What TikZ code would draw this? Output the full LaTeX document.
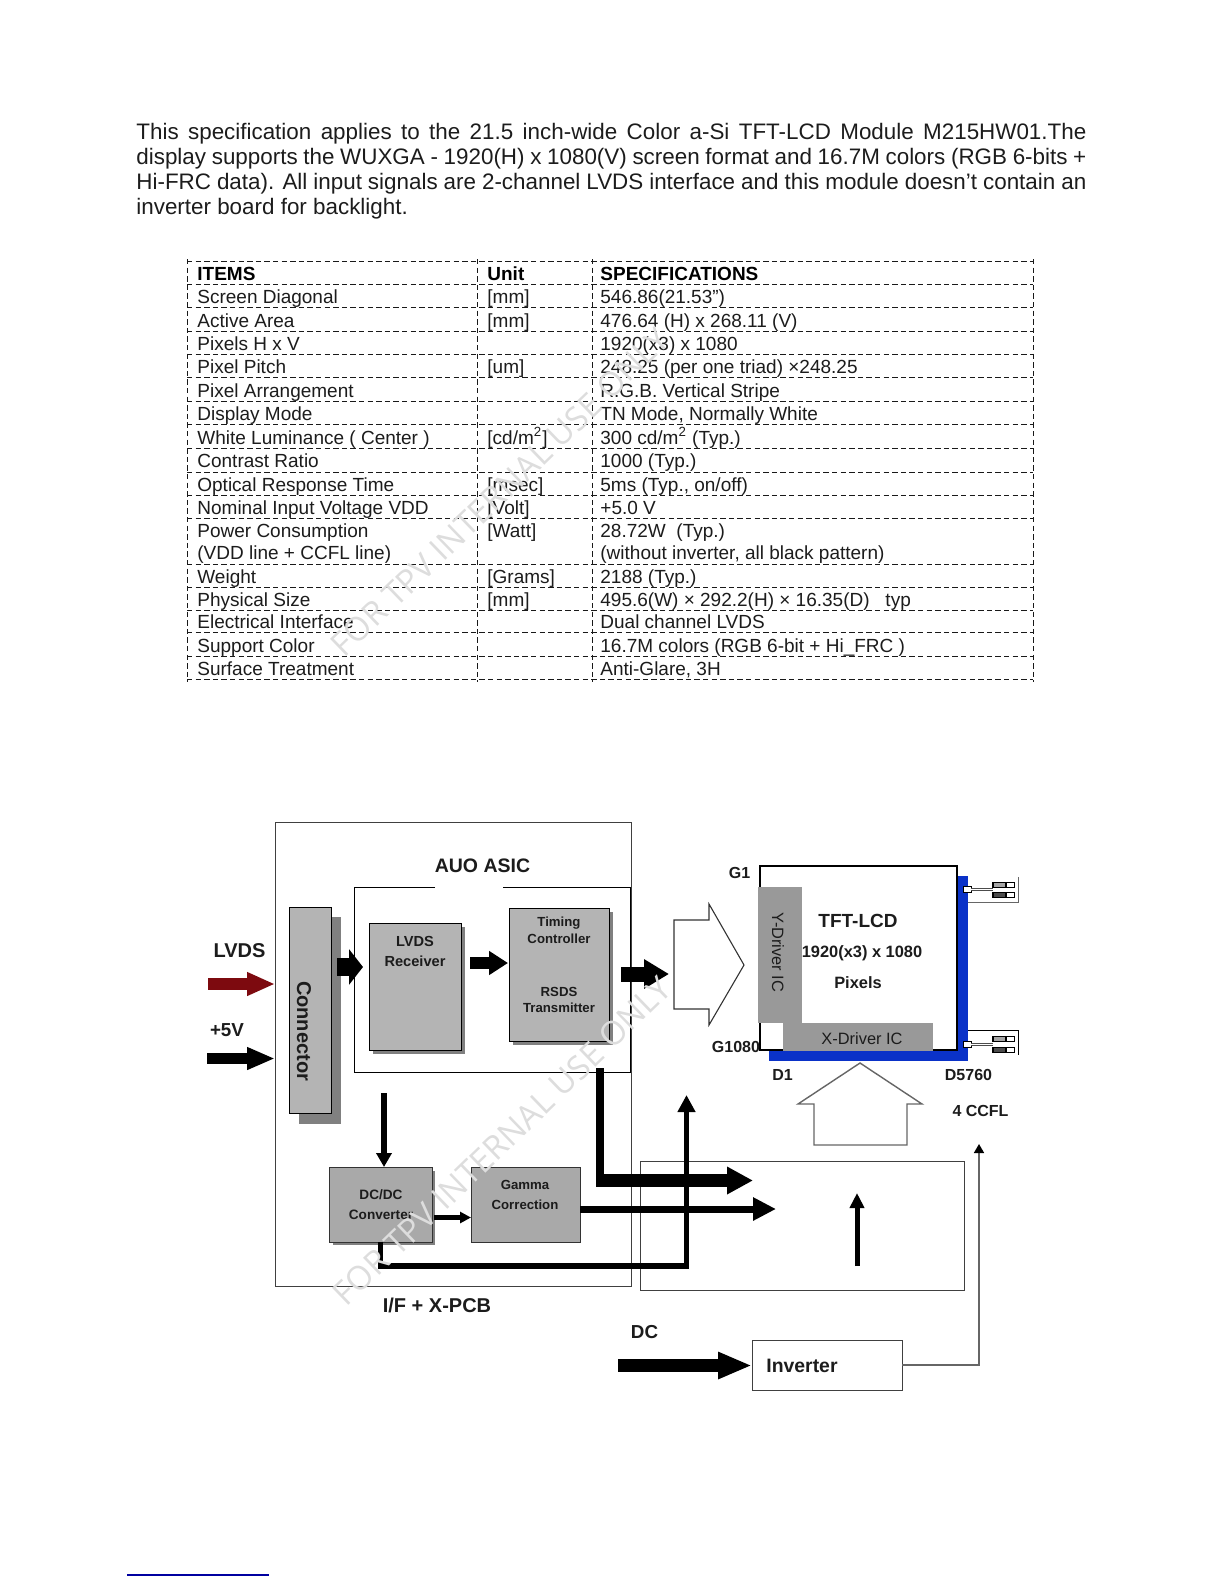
\documentclass[tikz,border=0pt]{standalone}
\usepackage{fontspec}
\setmainfont{Liberation Sans}
\newfontfamily\wmfont{Open Sans}
\usetikzlibrary{arrows.meta,calc}
\definecolor{boxgray}{HTML}{B4B4B4}
\definecolor{boxgrayb}{HTML}{A9A9A9}
\definecolor{shadowgray}{HTML}{808080}
\definecolor{drvgray}{HTML}{999999}
\definecolor{lcdblue}{HTML}{0A32C8}
\definecolor{inkc}{HTML}{1C1C1C}
\definecolor{wmgray}{HTML}{DDDDDD}
\definecolor{pagebluec}{HTML}{0000A0}
\newcommand\fpt[1]{\fontsize{#1pt}{#1pt}\selectfont}
\newcommand\bxn[6][]{%
 \pgfmathsetmacro\bw{(#5-#3)*0.5}\pgfmathsetmacro\bh{(#6-#4)*0.5}%
 \pgfmathsetmacro\bcx{(#3+#5)/2}\pgfmathsetmacro\bcy{(#4+#6)/2}%
 \node[inner sep=0pt,outer sep=0pt,minimum width=\bw pt,minimum height=\bh pt,#1] (#2) at (\bcx,\bcy) {};}
\newcommand\trow[5]{%
 \node[tcell] (#1a) at (197,#2) {#3};
 \node[tcell] (#1b) at (487,#2) {#4};
 \node[tcell] (#1c) at (600,#2) {#5};}
\newcommand\trown[4]{%
 \node[tcell] (#1a) at (197,#2) {#3};
 \node[tcell] (#1c) at (600,#2) {#4};}
\tikzset{
 tcell/.style={anchor=base west,inner sep=0pt,font=\fpt{9.5},text=inkc},
 thead/.style={anchor=base west,inner sep=0pt,font=\fpt{9.5}\bfseries,text=black},
 lab/.style={inner sep=0pt,text=inkc,font=\bfseries\fpt{#1}},
 lab/.default=8,
 reglab/.style={inner sep=0pt,text=inkc,font=\fpt{#1}},
 frame/.style={draw=black!75,line width=0.5pt},
 gbox/.style={draw=black,line width=0.5pt,fill=boxgray},
 gboxb/.style={draw=black!80,line width=0.5pt,fill=boxgrayb},
 shade/.style={fill=shadowgray},
 dashrule/.style={draw=black!90,line width=0.38pt,dash pattern=on 2.7pt off 1.6pt},
 wm/.style={inner sep=0pt,text=wmgray,font=\wmfont\fpt{16.5},rotate=44},
}
\begin{document}
\begin{tikzpicture}[x=0.5pt,y=-0.5pt]
\useasboundingbox (0,0) rectangle (1224,1584);
\fill[white] (0,0) rectangle (1224,1584);

% --- intro paragraph
\node[anchor=north west,inner sep=0pt,text width=475pt,align=justify,font=\fontsize{11.2}{12.5}\selectfont,text=inkc] (intro) at (136,122.5)
 {This specification applies to the 21.5 inch-wide Color a-Si TFT-LCD Module M215HW01.The\linebreak
 display supports the WUXGA - 1920(H) x 1080(V) screen format and 16.7M colors (RGB 6-bits +\linebreak
 Hi-FRC data). All input signals are 2-channel LVDS interface and this module doesn’t contain an\linebreak
 inverter board for backlight.};

% --- table rules
\foreach \yy in {261,284,307,331,354,377,401,424,448,472,495,518,564,587,610,632,656,679}
  \draw[dashrule] (187,\yy) -- (1033,\yy);
\foreach \xx in {187,477,592,1033}
  \draw[dashrule] (\xx,259) -- (\xx,682);

% --- table text
\node[thead] (h1) at (197,280) {ITEMS};
\node[thead] (h2) at (487,280) {Unit};
\node[thead] (h3) at (600,280) {SPECIFICATIONS};
\trow{ra}{303}{Screen Diagonal}{[mm]}{546.86(21.53”)}
\trow{rb}{327}{Active Area}{[mm]}{476.64 (H) x 268.11 (V)}
\trown{rc}{350}{Pixels H x V}{1920(x3) x 1080}
\trow{rd}{373}{Pixel Pitch}{[um]}{248.25 (per one triad) ×248.25}
\trown{re}{397}{Pixel Arrangement}{R.G.B. Vertical Stripe}
\trown{rf}{420}{Display Mode}{TN Mode, Normally White}
\trow{rg}{444}{White Luminance ( Center )}{[cd/m\textsuperscript{2}]}{300 cd/m\textsuperscript{2} (Typ.)}
\trown{rh}{467}{Contrast Ratio}{1000 (Typ.)}
\trow{ri}{491}{Optical Response Time}{[msec]}{5ms (Typ., on/off)}
\trow{rj}{514}{Nominal Input Voltage VDD}{[Volt]}{+5.0 V}
\trow{rk}{537}{Power Consumption}{[Watt]}{28.72W\ \ (Typ.)}
\trown{rl}{559}{(VDD line + CCFL line)}{(without inverter, all black pattern)}
\trow{rm}{583}{Weight}{[Grams]}{2188 (Typ.)}
\trow{rn}{606}{Physical Size}{[mm]}{495.6(W) × 292.2(H) × 16.35(D)\ \ \ typ}
\trown{ro}{628}{Electrical Interface}{Dual channel LVDS}
\trown{rp}{652}{Support Color}{16.7M colors (RGB 6-bit + Hi\_FRC )}
\trown{rq}{675}{Surface Treatment}{Anti-Glare, 3H}

% --- frames
\bxn[frame]{outer}{275}{822}{631}{1286}
\bxn[frame]{lower}{640}{1161}{964}{1290}
\bxn{asic}{354}{887}{630}{1072}
\draw[draw=black,line width=0.5pt] (435,887) -- (354,887) -- (354,1072) -- (630,1072) -- (630,887) -- (503,887);
\node[lab=9.75] (asiclab) at (482.5,866) {AUO ASIC};

% --- shadows and grey blocks
\bxn[shade]{connsh}{299}{917}{341}{1124}
\bxn[gbox]{conn}{289}{907}{331}{1113}
\node[lab=10,rotate=-90] (connlab) at (304,1031) {Connector};
\bxn[shade]{recvsh}{373}{927}{465}{1054}
\bxn[gbox]{recv}{369}{923}{461}{1050}
\node[lab=7.3] (recvl1) at (415,941) {LVDS};
\node[lab=7.3] (recvl2) at (415,961) {Receiver};
\bxn[shade]{timsh}{513}{912}{613}{1045}
\bxn[gbox]{tim}{509}{908}{609}{1041}
\node[lab=6.6] (timl1) at (559,923) {Timing};
\node[lab=6.6] (timl2) at (559,939) {Controller};
\node[lab=6.6] (timl3) at (559,992) {RSDS};
\node[lab=6.6] (timl4) at (559,1008) {Transmitter};
\bxn[shade]{dcsh}{333}{1171}{435}{1245}
\bxn[gboxb]{dcdc}{329}{1167}{432}{1242}
\node[lab=6.8] (dcl1) at (381,1195) {DC/DC};
\node[lab=6.8] (dcl2) at (381,1215) {Converter};
\bxn[gboxb]{gamma}{471}{1167}{580}{1242}
\node[lab=6.6] (gaml1) at (525,1185) {Gamma};
\node[lab=6.6] (gaml2) at (525,1205) {Correction};

% --- TFT-LCD panel
\fill[lcdblue] (957,876) rectangle (968,1061);
\fill[lcdblue] (769,1050) rectangle (968,1061);
\bxn[draw=black,line width=0.6pt,fill=white]{lcd}{760}{866}{957}{1050}
\bxn[fill=drvgray]{ydrv}{758}{887}{802}{1023}
\bxn[fill=drvgray]{xdrv}{783}{1023}{933}{1051}
\node[reglab=8.2,rotate=-90] (ydrvl) at (778,952.5) {Y-Driver IC};
\node[reglab=8.2] (xdrvl) at (862,1039) {X-Driver IC};
\node[lab=9.5] (lcdl1) at (858,921) {TFT-LCD};
\node[lab=8.2] (lcdl2) at (862,953) {1920(x3) x 1080};
\node[lab=8.2] (lcdl3) at (858,983) {Pixels};
\node[lab=8] (g1) at (739.5,873) {G1};
\node[lab=8] (g1080) at (736,1047) {G1080};
\node[lab=8] (d1) at (782.5,1075) {D1};
\node[lab=8] (d5760) at (968.5,1075) {D5760};
\node[lab=8] (ccfl) at (980.5,1111) {4 CCFL};

% --- CCFL connectors
\draw[black!60,line width=0.4pt] (968,902) -- (1018,902) -- (1018,877);
\draw[black,line width=0.45pt] (968,1030) -- (1018,1030) -- (1018,1055);
\draw[black,line width=0.4pt,fill=white] (963,886) rectangle (971,892);
\draw[black,line width=0.4pt,fill=white] (963,1041) rectangle (971,1047);
\foreach \ya/\yb/\yc in {889.5/885/895,1044.5/1039/1050}{
  \draw[black!70,line width=1.3pt] (971,\ya) -- (993,\ya);
  \draw[white,line width=0.4pt] (971,\ya) -- (993,\ya);
  \draw[black,line width=0.7pt,fill=black!35] (993,\yb-2.5) rectangle (1006,\yb+2.5);
  \draw[black,line width=0.9pt,fill=black!70] (993,\yc-2.5) rectangle (1006,\yc+2.5);
  \draw[black,line width=0.35pt] (1006,\yb-3) rectangle (1014,\yb+2);
  \draw[black,line width=0.35pt] (1006,\yc-2.5) rectangle (1014,\yc+2.5);
}

% --- hollow block arrows
\draw[black!80,line width=0.55pt,fill=white] (674,920) -- (709,920) -- (709,904) -- (744,965) -- (709,1025) -- (709,1009) -- (674,1009) -- cycle;
\draw[black!60,line width=0.7pt,fill=white] (860,1063) -- (922,1104) -- (907,1104) -- (907,1145) -- (814,1145) -- (814,1104) -- (798,1104) -- cycle;

% --- inverter
\bxn[frame,fill=white]{inv}{752}{1340}{902}{1390}
\node[lab=9.7,anchor=west] (invl) at (766,1366) {Inverter};
\node[lab=9.4] (dcl) at (644.5,1332) {DC};
\node[lab=10] (ifl) at (437,1305) {I/F + X-PCB};
\node[lab=10] (lvdsl) at (239.5,951) {LVDS};
\node[lab=9.4] (p5v) at (227,1030) {+5V};

% --- named anchors of connector rows
\coordinate (lvdsin) at (208,984);
\coordinate (pwrin) at (207,1058.5);
\coordinate (rowa) at (0,967);
\coordinate (rowb) at (0,963);
\coordinate (rowc) at (0,974);
\coordinate (rowd) at (0,1217.5);
\coordinate (dcin) at (618,1365.5);
\coordinate (pwrdown) at (384,1093);
\coordinate (gout) at (776,1209);
\coordinate (xbus) at (753,1180.5);
\coordinate (xbusst) at (596,1180.5);
\coordinate (xdrop) at (600,1068);
\coordinate (xcorner) at (600,1187);
\coordinate (gnd) at (686.5,1266);
\coordinate (gndtip) at (686.5,1095);
\coordinate (upbot) at (857,1266);
\coordinate (uptip) at (857,1193);
\coordinate (ccflcorner) at (979,1365);
\coordinate (ccfltip) at (979,1144);
\coordinate (timout) at (669,974);

% --- connectors
\draw[line width=5.8pt,draw={rgb,255:red,125;green,10;blue,15},-{Triangle[length=14pt,width=11pt,fill={rgb,255:red,125;green,10;blue,15}]}] (lvdsin) -- (lvdsin -| outer.west);
\draw[line width=5.5pt,-{Triangle[length=14pt,width=10.5pt]}] (pwrin) -- (pwrin -| outer.west);
\draw[line width=9pt,-{Triangle[length=7pt,width=17.5pt]},shorten <=3pt,shorten >=3pt] (rowa -| conn.east) -- (rowa -| recv.west);
\draw[line width=6pt,-{Triangle[length=9.5pt,width=11.5pt]},shorten <=4.5pt,shorten >=0.5pt] (rowb -| recv.east) -- (rowb -| tim.west);
\draw[line width=7.5pt,-{Triangle[length=12.5pt,width=14pt]},shorten <=6pt] (rowc -| tim.east) -- (timout);
\draw[line width=2.6pt,-{Triangle[length=7pt,width=7.5pt]}] (pwrdown) -- (pwrdown |- dcdc.north);
\draw[line width=2.5pt,-{Triangle[length=5.5pt,width=5.5pt]},shorten <=1pt] (rowd -| dcdc.east) -- (rowd -| gamma.west);
\draw[line width=2.7pt,miter limit=10,-{Triangle[length=8.5pt,width=8.5pt]}] (dcdc.south) |- (gnd) -- (gndtip);
\draw[line width=4pt] (xdrop) -- (xcorner);
\draw[line width=6.5pt,-{Triangle[length=13pt,width=13pt]}] (xbusst) -- (xbus);
\draw[line width=3.5pt,-{Triangle[length=11.5pt,width=11pt]}] (gout -| gamma.east) -- (gout);
\draw[line width=6.5pt,-{Triangle[length=17pt,width=12.5pt]}] (dcin) -- (dcin -| inv.west);
\draw[line width=2.5pt,-{Triangle[length=7.5pt,width=7pt]}] (upbot) -- (uptip);
\draw[black!60,line width=0.8pt,-{Triangle[length=4.5pt,width=5pt,color=black,fill=black]}] (inv.east) -- (ccflcorner) -- (ccfltip);

% --- footnote rule
\coordinate (ruleL) at (127,1575);
\coordinate (ruleR) at (269,1575);
\draw[pagebluec,line width=0.7pt] (ruleL) -- (ruleR);

% --- watermarks
\node[wm] (wma) at (500,492) {FOR TPV INTERNAL USE ONLY};
\node[wm] (wmb) at (502,1141) {FOR TPV INTERNAL USE ONLY};
\end{tikzpicture}
\end{document}
